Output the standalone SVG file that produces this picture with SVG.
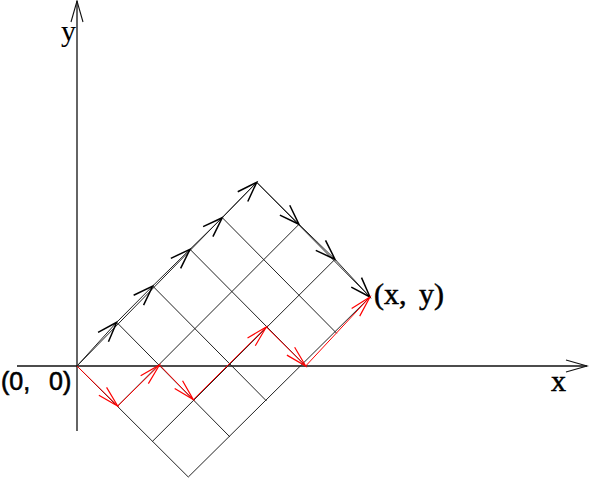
<svg xmlns="http://www.w3.org/2000/svg" width="589" height="479" viewBox="0 0 589 479">
  <style>
    .axis { stroke: #111; stroke-width: 1.3; fill: none; }
    .grid { stroke: #222; stroke-width: 1; fill: none; }
    .bk { stroke: #222; stroke-width: 1; fill: none; marker-end: url(#ab); }
    .rd { stroke: #ff0000; stroke-width: 1; fill: none; marker-end: url(#ar); }
    .lbl { font-family: "Liberation Serif", "Times New Roman", serif; font-size: 30px; fill: #000; }
    .heavy { stroke: #000; stroke-width: 0.5; }
    .lbl0 { font-family: "Liberation Sans", Arial, sans-serif; font-size: 25px; fill: #000; stroke: #000; stroke-width: 0.6; }
  </style>
  <defs>
    <marker id="ab" markerUnits="userSpaceOnUse" viewBox="-25 -12 30 24" refX="0" refY="0" markerWidth="30" markerHeight="24" orient="auto" overflow="visible">
      <path d="M-20,-7 L0,0 L-20,7" fill="none" stroke="#000" stroke-width="1.5"/>
    </marker>
    <marker id="ar" markerUnits="userSpaceOnUse" viewBox="-25 -12 30 24" refX="0" refY="0" markerWidth="30" markerHeight="24" orient="auto" overflow="visible">
      <path d="M-21,-5.5 L0,0 L-21,5.5" fill="none" stroke="#ff0000" stroke-width="1.2"/>
    </marker>
    <marker id="ax" markerUnits="userSpaceOnUse" viewBox="-25 -12 30 24" refX="0" refY="0" markerWidth="30" markerHeight="24" orient="auto" overflow="visible">
      <path d="M-21,-6 L0,0 L-21,6" fill="none" stroke="#111" stroke-width="1.1"/>
    </marker>
  </defs>

  <g id="axes">
    <line class="axis" x1="17" y1="366" x2="587" y2="366" marker-end="url(#ax)"/>
    <line class="axis" x1="77" y1="431" x2="77" y2="1" marker-end="url(#ax)"/>
  </g>

  <g id="grid">
    <line class="grid" x1="77" y1="366" x2="256.7" y2="182.3"/>
    <line class="grid" x1="117.7" y1="406" x2="299" y2="224.3"/>
    <line class="grid" x1="152.3" y1="441.5" x2="335" y2="259.3"/>
    <line class="grid" x1="188.3" y1="477" x2="370" y2="297"/>
    <line class="grid" x1="77" y1="366" x2="188.3" y2="477"/>
    <line class="grid" x1="116.7" y1="322.3" x2="230" y2="437"/>
    <line class="grid" x1="152.7" y1="286" x2="266.5" y2="401"/>
    <line class="grid" x1="190" y1="249.3" x2="305.7" y2="366"/>
    <line class="grid" x1="222.3" y1="217.7" x2="336.7" y2="333.3"/>
    <line class="grid" x1="256.7" y1="182.3" x2="370" y2="297"/>
  </g>

  <g id="connectors">
    <g id="black-path">
      <line class="bk" x1="77" y1="366" x2="116.7" y2="322.3"/>
      <line class="bk" x1="116.7" y1="322.3" x2="152.7" y2="286"/>
      <line class="bk" x1="152.7" y1="286" x2="190" y2="249.3"/>
      <line class="bk" x1="190" y1="249.3" x2="222.3" y2="217.7"/>
      <line class="bk" x1="222.3" y1="217.7" x2="256.7" y2="182.3"/>
      <line class="bk" x1="256.7" y1="182.3" x2="299" y2="224.3"/>
      <line class="bk" x1="299" y1="224.3" x2="335" y2="259.3"/>
      <line class="bk" x1="335" y1="259.3" x2="370" y2="297"/>
    </g>
    <g id="red-path">
      <line class="rd" x1="77" y1="366" x2="117.7" y2="406"/>
      <line class="rd" x1="117.7" y1="406" x2="159.5" y2="365"/>
      <line class="rd" x1="159.5" y1="365" x2="193.3" y2="399.6"/>
      <line class="rd" x1="193.3" y1="399.6" x2="266.3" y2="327"/>
      <line class="rd" x1="266.3" y1="327" x2="305.7" y2="366"/>
      <line class="rd" x1="305.7" y1="366" x2="370" y2="297"/>
    </g>
  </g>

  <g id="labels">
    <text id="label-y" class="lbl" x="61" y="41">y</text>
    <text id="label-x" class="lbl heavy" x="551" y="391">x</text>
    <text id="label-xy" class="lbl heavy" x="374" y="304">(x, <tspan x="419">y)</tspan></text>
    <text id="label-origin" class="lbl0" x="1" y="390">(0, <tspan x="49">0)</tspan></text>
  </g>
</svg>
